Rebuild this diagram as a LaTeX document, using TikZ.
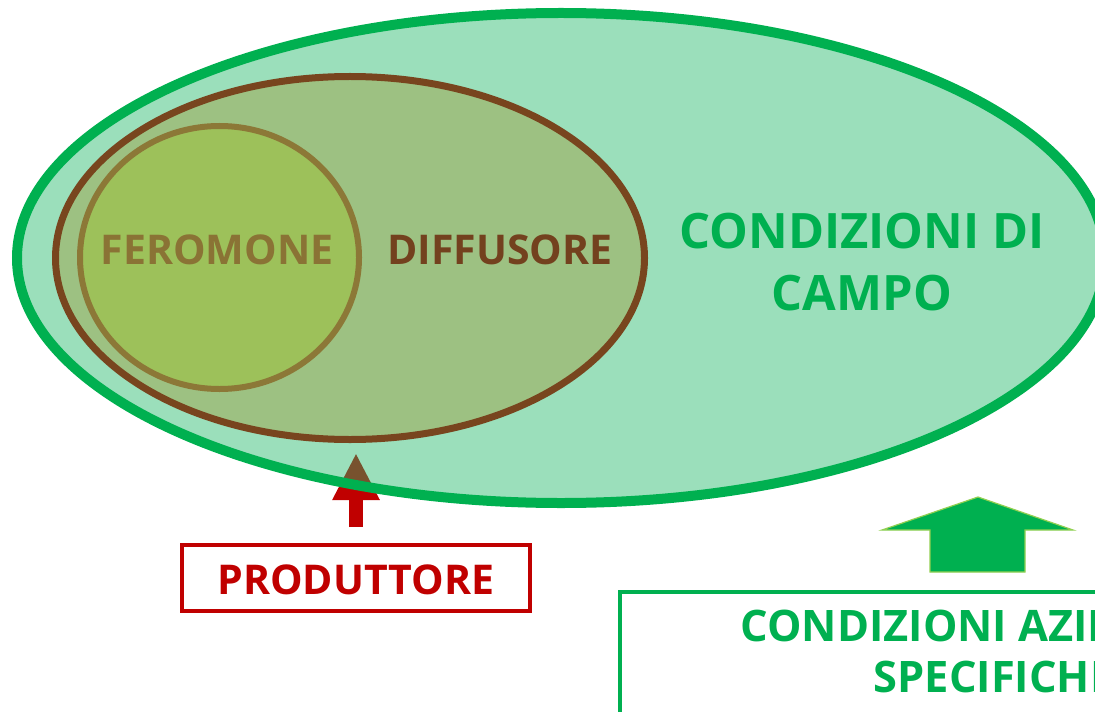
\documentclass[tikz,border=0pt]{standalone}
\usepackage{fontspec}
\setmainfont{Open Sans}
\usepackage{tikz}
\usetikzlibrary{arrows.meta}
\definecolor{campo}{RGB}{0,176,80}
\definecolor{campofill}{RGB}{33,184,104}
\definecolor{diffbrown}{RGB}{120,69,30}
\definecolor{difffill}{RGB}{157,193,130}
\definecolor{ferofill}{RGB}{157,193,90}
\definecolor{ferobrown}{RGB}{140,120,55}
\definecolor{ferotext}{RGB}{138,115,53}
\definecolor{difftext}{RGB}{115,65,30}
\definecolor{prodred}{RGB}{192,0,0}
\definecolor{arrowedge}{RGB}{146,208,80}

\begin{document}
\begin{tikzpicture}[x=0.5pt,y=-0.5pt,
    label/.style={inner sep=0pt,font=\bfseries\fontsize{20.5}{25}\selectfont},
    bigtext/.style={inner sep=0pt,align=center,text=campo,font=\bfseries\fontsize{24.4}{31}\selectfont}]
      \clip (0,0) rectangle (1095,711);
      \node[draw=prodred,line width=2pt,minimum width=174pt,minimum height=33pt,inner sep=0pt] (prod) at (356,578) {};
      \node[label,anchor=base,text=prodred] (prodtext) at (356,594) {PRODUTTORE};
      \coordinate (tip) at (356,453);
      \draw[-{Triangle[width=22pt,length=23.5pt]},prodred,line width=7pt,shorten <=8pt] (prod.north) -- (tip);
      \fill[campofill,fill opacity=0.45] (561,258) ellipse [x radius=544,y radius=245];
      \draw[campo,line width=5pt] (561,258) ellipse [x radius=544,y radius=245];
      \filldraw[fill=difffill,draw=diffbrown,line width=3.5pt] (350,258) ellipse [x radius=294.5,y radius=181.5];
      \filldraw[fill=ferofill,draw=ferobrown,line width=3pt] (219.5,257.5) ellipse [x radius=139.5,y radius=131.5];
      \node[label,anchor=base,text=ferotext] (fero) at (217,264) {FEROMONE};
      \node[label,anchor=base,text=difftext] (diff) at (500,264) {DIFFUSORE};
      \node[bigtext] (campo) at (862,262) {CONDIZIONI DI\\CAMPO};
      \filldraw[fill=campo,draw=arrowedge,line width=0.6pt] (978,497) -- (1073,530) -- (1025,530) -- (1025,572) -- (930,572) -- (930,530) -- (882,530) -- cycle;
      \draw[campo,line width=2pt] (620,760) -- (620,592) -- (1120,592);
      \node[bigtext,font=\bfseries\fontsize{21.7}{25.5}\selectfont] (azienda) at (994,651) {CONDIZIONI AZIENDALI\\SPECIFICHE};
\end{tikzpicture}
\end{document}
